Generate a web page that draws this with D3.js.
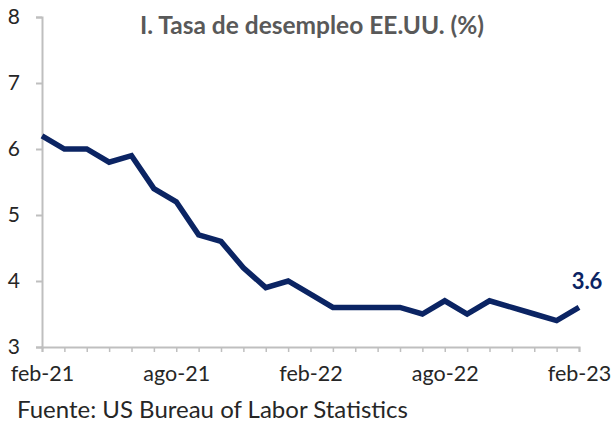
<!DOCTYPE html>
<html>
<head>
<meta charset="utf-8">
<script src="https://cdn.jsdelivr.net/npm/d3@7"></script>
<style>
  body { margin: 0; background: #fff; }
  svg { display: block; font-family: Lato, "Open Sans", sans-serif; }
</style>
</head>
<body>
<svg id="chart" width="612" height="425"></svg>
<script>
// monthly unemployment rate, feb-21 .. feb-23
const months = ['feb-21','mar-21','abr-21','may-21','jun-21','jul-21','ago-21','sep-21','oct-21','nov-21','dic-21','ene-22',
  'feb-22','mar-22','abr-22','may-22','jun-22','jul-22','ago-22','sep-22','oct-22','nov-22','dic-22','ene-23','feb-23'];
const rate = [6.2, 6.0, 6.0, 5.8, 5.9, 5.4, 5.2, 4.7, 4.6, 4.2, 3.9, 4.0,
  3.8, 3.6, 3.6, 3.6, 3.6, 3.5, 3.7, 3.5, 3.7, 3.6, 3.5, 3.4, 3.6];
const xLabels = ['feb-21', 'ago-21', 'feb-22', 'ago-22', 'feb-23'];
const yTicks = [3, 4, 5, 6, 7, 8];

const svg = d3.select('#chart');
const plotLeft = 42, plotRight = 579, plotTop = 17, plotBottom = 347;

const x = d3.scalePoint().domain(months).range([plotLeft, plotRight]);
const y = d3.scaleLinear().domain([3, 8]).range([plotBottom, plotTop]);

const axisColor = '#bfbfbf';
const font = 'Lato, sans-serif';

// y axis
const yAxis = svg.append('g')
  .attr('transform', `translate(${plotLeft},0)`)
  .call(d3.axisLeft(y).tickValues(yTicks).tickSize(6).tickPadding(16).tickFormat(d3.format('d')));
yAxis.select('.domain').attr('stroke', axisColor).attr('stroke-width', 2);
yAxis.selectAll('.tick line').attr('stroke', axisColor).attr('stroke-width', 2);
yAxis.selectAll('.tick text')
  .attr('fill', '#262626').attr('font-size', 21).attr('font-family', font);

// x axis
const xAxis = svg.append('g')
  .attr('transform', `translate(0,${plotBottom})`)
  .call(d3.axisBottom(x).tickSize(5).tickPadding(14)
    .tickFormat(d => xLabels.includes(d) ? d : ''));
xAxis.select('.domain').attr('stroke', axisColor).attr('stroke-width', 2);
xAxis.selectAll('.tick line').attr('stroke', axisColor).attr('stroke-width', 1.5);
xAxis.selectAll('.tick text')
  .attr('fill', '#262626').attr('font-size', 21.5).attr('font-family', font);

// line
const line = d3.line()
  .x((d, i) => x(months[i]))
  .y(d => y(d));

svg.append('path')
  .datum(rate)
  .attr('d', line)
  .attr('fill', 'none')
  .attr('stroke', '#0b2463')
  .attr('stroke-width', 5.5)
  .attr('stroke-linejoin', 'miter');

// last value label
const lastI = rate.length - 1;
svg.append('text')
  .attr('x', x(months[lastI]) + 8)
  .attr('y', y(rate[lastI]) - 18)
  .attr('text-anchor', 'middle')
  .attr('font-size', 22)
  .attr('font-weight', 'bold')
  .attr('fill', '#0b2463')
  .text(d3.format('.1f')(rate[lastI]));

// title
svg.append('text')
  .attr('x', 312)
  .attr('y', 34)
  .attr('text-anchor', 'middle')
  .attr('font-size', 24.5)
  .attr('font-weight', 'bold')
  .attr('fill', '#595959')
  .text('I. Tasa de desempleo EE.UU. (%)');

// source
svg.append('text')
  .attr('x', 17)
  .attr('y', 418)
  .attr('font-size', 24)
  .attr('fill', '#262626')
  .text('Fuente: US Bureau of Labor Statistics');
</script>
</body>
</html>
